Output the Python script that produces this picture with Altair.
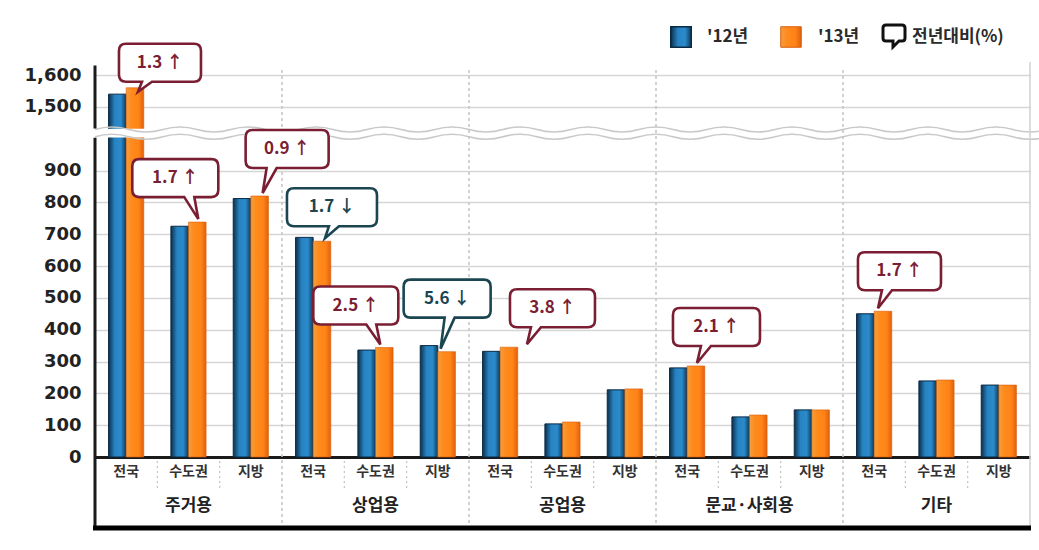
import altair as alt
import pandas as pd

# ---------------- data ----------------
groups = ["주거용", "상업용", "공업용", "문교·사회용", "기타"]
regions = ["전국", "수도권", "지방"]
years = ["'12년", "'13년"]
values_12 = [1540, 725, 812, 690, 336, 350, 332, 104, 211, 280, 126, 148, 450, 239, 226]
values_13 = [1560, 738, 820, 678, 344, 331, 345, 110, 214, 286, 132, 148, 458, 242, 226]

callout_group = ["주거용", "주거용", "주거용", "상업용", "상업용", "상업용", "공업용", "문교·사회용", "기타"]
callout_region = ["전국", "수도권", "지방", "전국", "수도권", "지방", "전국", "전국", "전국"]
callout_change = [1.3, 1.7, 0.9, -1.7, 2.5, -5.6, 3.8, 2.1, 1.7]

y_tick_labels = [0, 100, 200, 300, 400, 500, 600, 700, 800, 900, 1500, 1600]
legend_labels = ["'12년", "'13년", "전년대비(%)"]

# ---------------- layout / style ----------------
# callout box geometry in pixels relative to the top of the '13 bar:
# (box left, box right, lift of box bottom above bar top, tail tip x)
callout_geom = [(-16, 66, 6, 3), (-65, 21, 25, 1), (-14, 69, 28, 3), (-35, 55, 15, 3),
                (-71, 14, 23, -4), (-43, 44, 34, -6), (1, 86, 20, 18), (-23, 64, 20, 1),
                (-25, 58, 21, -5)]
BREAK_AT = 1000
BREAK_SHIFT = 400
W, H = 935, 395
Y_MAX = 1241
FONT = "Noto Sans CJK KR"
UP_COLOR = "#7a1f33"
DOWN_COLOR = "#1b4651"


def px(v):
    """pixel row of a (plot-space) y value, for decorations only"""
    return H - v * H / Y_MAX


cats = [f"{g}|{r}" for g in groups for r in regions]

rows = []
for i, c in enumerate(cats):
    rows.append({"cat": c, "year": years[0], "v": values_12[i]})
    rows.append({"cat": c, "year": years[1], "v": values_13[i]})
df = pd.DataFrame(rows)
df["yp"] = df["v"].where(df["v"] < BREAK_AT, df["v"] - BREAK_SHIFT)

y_pos = [t if t < BREAK_AT else t - BREAK_SHIFT for t in y_tick_labels]

x_scale = alt.Scale(domain=cats, paddingInner=0, paddingOuter=0)
y_scale = alt.Scale(domain=[0, Y_MAX], nice=False, zero=True)
x_axis = alt.Axis(title=None, labelExpr="split(datum.value, '|')[1]", labelAngle=0,
                  ticks=False, domain=True, domainColor="#1a1a1a", domainWidth=3,
                  labelFont=FONT, labelFontSize=14, labelFontWeight="bold",
                  labelColor="#333333", labelPadding=7, grid=False)
y_axis = alt.Axis(title=None, values=y_pos, labelOverlap=False,
                  labelExpr=f"datum.value > {BREAK_AT} ? format(datum.value + {BREAK_SHIFT}, ',') : format(datum.value, ',')",
                  grid=True, gridColor="#d6d6d6", gridWidth=1.5, domain=False, ticks=False,
                  labelPadding=14, labelFont="DejaVu Sans", labelFontSize=18,
                  labelFontWeight="bold", labelColor="#222222")
x_enc = alt.X("cat:N", sort=cats, scale=x_scale, axis=x_axis)
y_enc = alt.Y("yp:Q", scale=y_scale, axis=y_axis)
xoff = alt.XOffset("year:N", sort=years,
                   scale=alt.Scale(domain=years, paddingInner=0, paddingOuter=0.77))

blue_grad = alt.Gradient(gradient="linear", x1=0, x2=1, y1=0, y2=0, stops=[
    alt.GradientStop(color="#0c2f4c", offset=0),
    alt.GradientStop(color="#2784c2", offset=0.35),
    alt.GradientStop(color="#2a8acb", offset=0.7),
    alt.GradientStop(color="#0f3a5a", offset=1)])
orange_grad = alt.Gradient(gradient="linear", x1=0, x2=1, y1=0, y2=0, stops=[
    alt.GradientStop(color="#f0a040", offset=0),
    alt.GradientStop(color="#ff8a1c", offset=0.3),
    alt.GradientStop(color="#ff8418", offset=0.7),
    alt.GradientStop(color="#e2600c", offset=1)])

base = alt.Chart(df)
bars12 = base.transform_filter(alt.datum.year == years[0]).mark_bar(
    color=blue_grad, stroke="#0b2b45", strokeWidth=1).encode(x=x_enc, y=y_enc, xOffset=xoff)
bars13 = base.transform_filter(alt.datum.year == years[1]).mark_bar(
    color=orange_grad, stroke="#d85c0a", strokeWidth=0.6).encode(x=x_enc, y=y_enc, xOffset=xoff)

one = pd.DataFrame({"k": [0]})

# axis break: white band + two wavy lines
band = alt.Chart(one).mark_rect(color="white").encode(
    x=alt.value(-2), x2=alt.value(W - 1), y=alt.value(px(1031)), y2=alt.value(px(1004)))
wave_parts = ["M0,0"]
step = 34
n = int(W / step) + 1
for i in range(n):
    x0 = i * step
    if i == 0:
        wave_parts.append(f"Q{x0 + step / 2},-5 {x0 + step},0")
    else:
        wave_parts.append(f"T{x0 + step},0")
wave_path = " ".join(wave_parts)
waves = [
    alt.Chart(one).mark_point(shape=wave_path, size=4, filled=False, stroke="#c9c9c9",
                              strokeWidth=1.6, opacity=1).encode(
        x=alt.value(0), y=alt.value(px(yv)))
    for yv in (1006, 1029)
]

# left axis line (broken) and frame lines
axis_top = alt.Chart(one).mark_rule(color="#1a1a1a", strokeWidth=3).encode(
    x=alt.value(0), y=alt.value(px(1230)), y2=alt.value(px(1032)))
axis_bot = alt.Chart(one).mark_rule(color="#1a1a1a", strokeWidth=3).encode(
    x=alt.value(0), y=alt.value(px(1003)), y2=alt.value(H + 71))
bottom_line = alt.Chart(one).mark_rule(color="#000000", strokeWidth=5).encode(
    x=alt.value(-2), x2=alt.value(W + 1), y=alt.value(H + 71))
right_line = alt.Chart(one).mark_rule(color="#d0d0d0", strokeWidth=1.5).encode(
    x=alt.value(W), y=alt.value(0), y2=alt.value(H + 69))

sep_df = pd.DataFrame({"cat": cats})
sep_df["region"] = [c.split("|")[1] for c in cats]
x_edge = alt.X("cat:N", sort=cats, bandPosition=0, scale=x_scale, axis=x_axis)
group_sep = alt.Chart(sep_df).transform_filter(
    (alt.datum.region == regions[0]) & (alt.datum.cat != cats[0])
).mark_rule(color="#c4c4c4", strokeWidth=1.5, strokeDash=[3, 3]).encode(
    x=x_edge, y=alt.value(8), y2=alt.value(H + 68))
sub_sep = alt.Chart(sep_df).transform_filter(
    alt.datum.region != regions[0]
).mark_rule(color="#c4c4c4", strokeWidth=1.2, strokeDash=[2, 3]).encode(
    x=x_edge, y=alt.value(H + 4), y2=alt.value(H + 34))

grp_df = pd.DataFrame({"cat": [f"{g}|{regions[1]}" for g in groups], "label": groups})
group_labels = alt.Chart(grp_df).mark_text(
    font=FONT, fontSize=17, fontWeight="bold", color="#222222", baseline="middle").encode(
    x=x_enc, y=alt.value(H + 49), text="label:N")


# callouts (custom symbol paths in pixel units: size=4 -> scale 1)
def callout_path(a, b, t, bt, t1, t2, tipx, tipy, r=7):
    return (f"M{t1},{bt} L{tipx},{tipy} L{t2},{bt} L{b - r},{bt} Q{b},{bt} {b},{bt - r} "
            f"L{b},{t + r} Q{b},{t} {b - r},{t} L{a + r},{t} Q{a},{t} {a},{t + r} "
            f"L{a},{bt - r} Q{a},{bt} {a + r},{bt} Z")


callout_layers = []
for g, r, ch, (a, b, lift, tipx) in zip(callout_group, callout_region, callout_change,
                                        callout_geom):
    c = f"{g}|{r}"
    v = values_13[cats.index(c)]
    yp = v if v < BREAK_AT else v - BREAK_SHIFT
    col = UP_COLOR if ch > 0 else DOWN_COLOR
    d = pd.DataFrame({"cat": [c], "year": [years[1]], "yp": [yp],
                      "text": [f"{abs(ch):.1f} {'↑' if ch > 0 else '↓'}"]})
    bt = -lift
    t = bt - 38
    tipy = -3 if lift >= 14 else bt + 10
    s = 1 if (a + b) / 2 > tipx else -1
    t1, t2 = sorted([tipx + s * 4, tipx + s * 14])
    path = callout_path(a, b, t, bt, t1, t2, tipx, tipy)
    sub = alt.Chart(d)
    box = sub.mark_point(shape=path, size=4, filled=True, fill="white", stroke=col,
                         strokeWidth=2.6, opacity=1).encode(x=x_enc, y=y_enc, xOffset=xoff)
    txt = sub.mark_text(font=FONT, fontSize=17, fontWeight="bold", baseline="middle",
                        color=col, dx=(a + b) / 2, dy=(t + bt) / 2).encode(
        x=x_enc, y=y_enc, xOffset=xoff, text="text:N")
    callout_layers += [box, txt]

# legend (drawn manually, top right)
leg = []
leg.append(alt.Chart(one).mark_square(size=420, color=blue_grad, stroke="#0b2b45",
                                      strokeWidth=1.5, opacity=1).encode(
    x=alt.value(586), y=alt.value(-25)))
leg.append(alt.Chart(one).mark_square(size=420, color=orange_grad, stroke="#d85c0a",
                                      strokeWidth=1, opacity=1).encode(
    x=alt.value(696), y=alt.value(-25)))
icon_path = callout_path(-11, 11, -11, 5, -1, 5, -1, 11, r=3)
leg.append(alt.Chart(one).mark_point(shape=icon_path, size=4, filled=False, stroke="#111111",
                                     strokeWidth=3, opacity=1).encode(
    x=alt.value(799), y=alt.value(-26)))
for lbl, xpos in zip(legend_labels, [612, 723, 817]):
    leg.append(alt.Chart(pd.DataFrame({"t": [lbl]})).mark_text(
        font=FONT, fontSize=17, fontWeight="bold", color="#2a2a2a", align="left",
        baseline="middle").encode(x=alt.value(xpos), y=alt.value(-25), text="t:N"))

chart = alt.layer(
    bars12, bars13, band, *waves, axis_top, axis_bot, group_sep, sub_sep, right_line,
    bottom_line, group_labels, *callout_layers, *leg
).properties(
    width=W, height=H, autosize="none",
    padding={"left": 95, "top": 62, "right": 9, "bottom": 93},
    background="white",
).configure_view(stroke=None).configure_axisY(labelOverlap=False)

chart.save("out.html", embed_options={"renderer": "svg", "actions": False})
